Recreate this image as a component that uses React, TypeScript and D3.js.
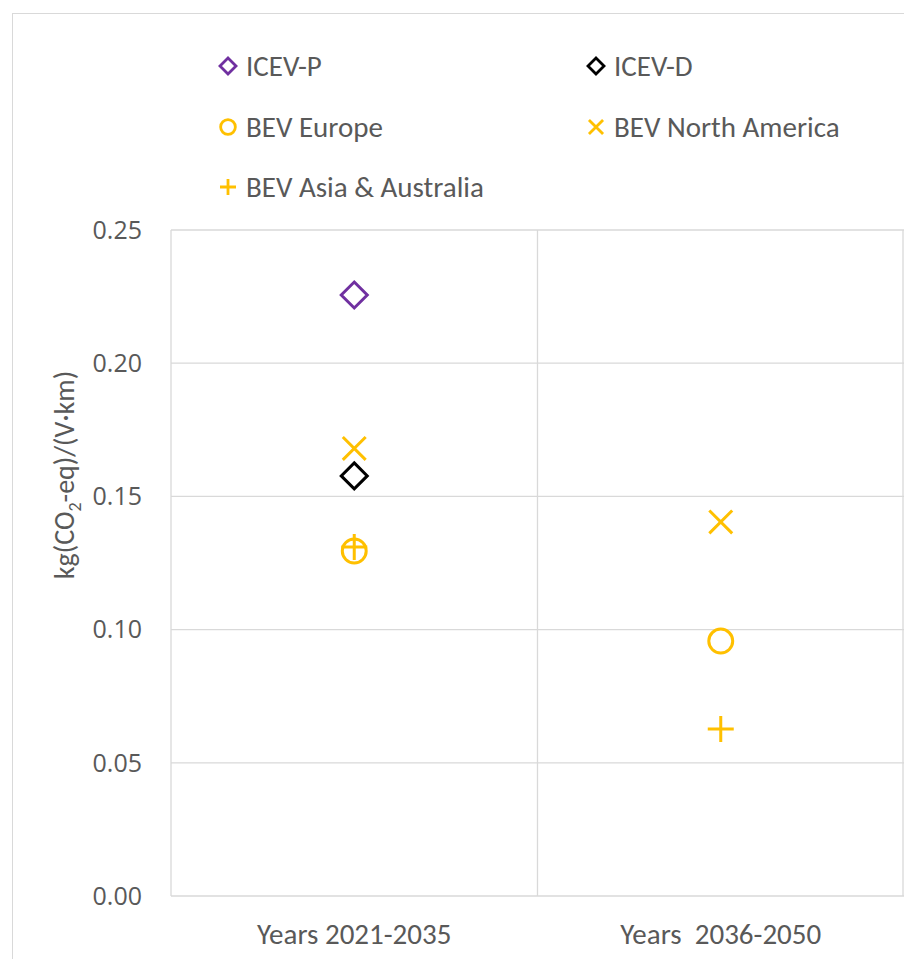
import React from "react";
import * as d3 from "d3";

const categories = ["Years 2021-2035", "Years  2036-2050"];
const yTicks = [0, 0.05, 0.1, 0.15, 0.2, 0.25];

const seriesNames = ["ICEV-P", "ICEV-D", "BEV Europe", "BEV North America", "BEV Asia & Australia"];
const seriesColors = ["#7030A0", "#000000", "#FFC000", "#FFC000", "#FFC000"];
const seriesShapes = ["diamond", "diamond", "circle", "x", "plus"];

// values per series: [2021-2035, 2036-2050] (null = no point)
const icevP: (number | null)[] = [0.2256, null];
const icevD: (number | null)[] = [0.1577, null];
const bevEurope: (number | null)[] = [0.1295, 0.0957];
const bevNorthAmerica: (number | null)[] = [0.168, 0.1404];
const bevAsia: (number | null)[] = [0.131, 0.0627];

const seriesValues = [icevP, icevD, bevEurope, bevNorthAmerica, bevAsia];

const W = 904;
const H = 959;
const plot = { left: 171, right: 904, top: 230, bottom: 896 };
const gray = "#595959";
const calibri = "Carlito, Calibri, Lato, 'Open Sans', sans-serif";

function Marker({ shape, color, x, y, s, sw }: { shape: string; color: string; x: number; y: number; s: number; sw: number }) {
  if (shape === "diamond") {
    return (
      <path d={`M${x},${y - s} L${x + s},${y} L${x},${y + s} L${x - s},${y} Z`} fill="none" stroke={color} strokeWidth={sw} />
    );
  }
  if (shape === "circle") {
    return <circle cx={x} cy={y} r={s * 0.92} fill="none" stroke={color} strokeWidth={sw} />;
  }
  if (shape === "x") {
    const a = s * 0.88;
    return (
      <path d={`M${x - a},${y - a} L${x + a},${y + a} M${x - a},${y + a} L${x + a},${y - a}`} stroke={color} strokeWidth={sw} fill="none" />
    );
  }
  const a = s;
  return <path d={`M${x - a},${y} L${x + a},${y} M${x},${y - a} L${x},${y + a}`} stroke={color} strokeWidth={sw} fill="none" />;
}

export default function App() {
  const y = d3.scaleLinear().domain([0, 0.25]).range([plot.bottom, plot.top]);
  const x = d3.scaleBand<string>().domain(categories).range([plot.left, plot.right]);

  const legendPos = [
    { x: 228, y: 66 },
    { x: 596, y: 66 },
    { x: 228, y: 127 },
    { x: 596, y: 127 },
    { x: 228, y: 187 },
  ];

  return (
    <svg width={W} height={H} style={{ position: "absolute", left: 0, top: 0, background: "#fff" }}>
      <rect x={12.5} y={13.5} width={W} height={H} fill="#fff" stroke="#d9d9d9" strokeWidth={1} />
      {/* gridlines */}
      {yTicks.map((t) => (
        <line key={t} x1={plot.left} x2={plot.right} y1={y(t)} y2={y(t)} stroke="#d9d9d9" strokeWidth={1.3} />
      ))}
      {/* vertical category lines */}
      {categories.map((c) => (
        <line key={c} x1={x(c)!} x2={x(c)!} y1={plot.top} y2={plot.bottom} stroke="#d9d9d9" strokeWidth={1.3} />
      ))}
      <line x1={plot.right - 1} x2={plot.right - 1} y1={plot.top} y2={plot.bottom} stroke="#d9d9d9" strokeWidth={1.3} />
      {/* tick labels */}
      {yTicks.map((t) => (
        <text key={t} x={142} y={y(t)} dy="0.35em" textAnchor="end" fontFamily="'Open Sans', sans-serif" fontSize={25} fill={gray}>
          {d3.format(".2f")(t)}
        </text>
      ))}
      {/* category labels */}
      {categories.map((c) => (
        <text key={c} x={x(c)! + x.bandwidth() / 2} y={934} dy="0.35em" textAnchor="middle" fontFamily={calibri} fontSize={29} fill={gray} style={{ whiteSpace: "pre" }}>
          {c}
        </text>
      ))}
      {/* y axis title */}
      <text transform={`translate(74,475) rotate(-90)`} textAnchor="middle" fontFamily={calibri} fontSize={28} fill={gray}>
        kg(CO<tspan fontSize={18} dy={7}>2</tspan><tspan dy={-7}>-eq)/(V·km)</tspan>
      </text>
      {/* points */}
      {seriesValues.map((vals, si) =>
        vals.map((v, ci) =>
          v == null ? null : (
            <Marker key={`${si}-${ci}`} shape={seriesShapes[si]} color={seriesColors[si]} x={x(categories[ci])! + x.bandwidth() / 2} y={y(v)} s={13} sw={3} />
          )
        )
      )}
      {/* legend */}
      {seriesNames.map((n, i) => (
        <g key={n}>
          <Marker shape={seriesShapes[i]} color={seriesColors[i]} x={legendPos[i].x} y={legendPos[i].y} s={8} sw={2.8} />
          <text x={legendPos[i].x + 18} y={legendPos[i].y} dy="0.35em" fontFamily={calibri} fontSize={29} fill={gray}>
            {n}
          </text>
        </g>
      ))}
    </svg>
  );
}
